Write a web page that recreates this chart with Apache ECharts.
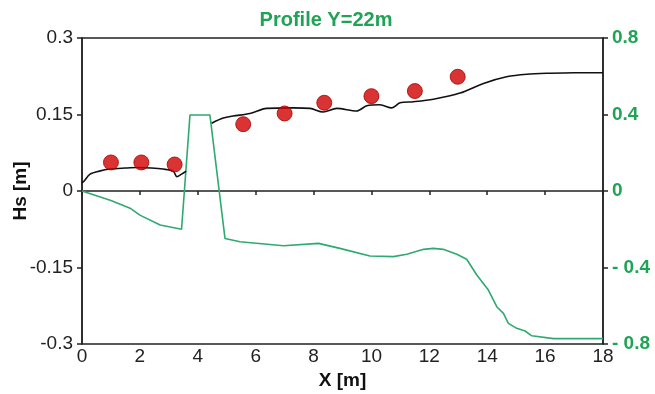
<!DOCTYPE html>
<html>
<head>
<meta charset="utf-8">
<script src="https://cdn.jsdelivr.net/npm/echarts@6/dist/echarts.min.js"></script>
<style>html,body{margin:0;padding:0;background:#fff;}#c{width:655px;height:394px;}</style>
</head>
<body>
<div id="c"></div>
<script>
// Modelled Hs (black line, left axis); '-' marks the gap over the structure
var hsX = [0, 0.05, 0.28, 0.6, 0.97, 1.5, 1.89, 2.4, 2.8, 3.15, 3.28, 3.44, 3.6, 4.0, 4.48, 4.88, 5.22, 5.8, 6.38, 7.3, 7.88, 8.33, 8.8, 9.49, 9.84, 10.3, 10.7, 10.99, 11.45, 12.14, 13.06, 13.87, 14.67, 15.37, 16.17, 17.0, 18];
var hsY = [0.016, 0.018, 0.033, 0.039, 0.043, 0.045, 0.046, 0.045, 0.043, 0.039, 0.028, 0.033, 0.039, '-', 0.133, 0.143, 0.147, 0.152, 0.162, 0.163, 0.162, 0.155, 0.162, 0.157, 0.167, 0.169, 0.163, 0.173, 0.175, 0.180, 0.192, 0.211, 0.224, 0.229, 0.231, 0.232, 0.232];
// Measured Hs (red dots, left axis)
var obsX = [1.0, 2.05, 3.2, 5.57, 7.0, 8.37, 10.0, 11.5, 12.98];
var obsY = [0.056, 0.056, 0.052, 0.131, 0.152, 0.173, 0.186, 0.196, 0.224];
// Bottom profile (green line, right axis)
var bedX = [0, 0.5, 1.0, 1.66, 2.0, 2.7, 3.44, 3.73, 4.42, 4.94, 5.46, 6.96, 8.17, 8.91, 9.95, 10.76, 11.22, 11.8, 12.14, 12.48, 12.95, 13.29, 13.64, 14.04, 14.33, 14.56, 14.73, 15.02, 15.31, 15.54, 16.29, 18];
var bedY = [0.0, -0.025, -0.05, -0.09, -0.126, -0.178, -0.2, 0.397, 0.397, -0.248, -0.265, -0.286, -0.274, -0.3, -0.34, -0.343, -0.331, -0.305, -0.3, -0.305, -0.331, -0.357, -0.439, -0.518, -0.605, -0.64, -0.692, -0.718, -0.732, -0.757, -0.772, -0.772];
var xTicks = [0, 2, 4, 6, 8, 10, 12, 14, 16, 18];
var leftTicks = [-0.3, -0.15, 0, 0.15, 0.3];
var rightTicks = [-0.8, -0.4, 0, 0.4, 0.8];

function zip(a, b) { return a.map(function (v, i) { return [v, b[i]]; }); }

var FONT = 'Liberation Sans, Arial, sans-serif';
var GREEN = '#1fa355';
var chart = echarts.init(document.getElementById('c'), null, { renderer: 'canvas' });
chart.setOption({
  animation: false,
  backgroundColor: '#fff',
  title: {
    text: 'Profile Y=22m', left: 321, top: 5, textAlign: 'center',
    textStyle: { color: GREEN, fontFamily: FONT, fontSize: 20, fontWeight: 'bold' }
  },
  grid: { left: 82, right: 52, top: 38, bottom: 50, containLabel: false, outerBoundsMode: 'none',
    show: true, borderColor: '#222', borderWidth: 1.5, backgroundColor: 'transparent' },
  xAxis: {
    type: 'value', min: xTicks[0], max: xTicks[xTicks.length - 1], interval: 2,
    name: 'X [m]', nameLocation: 'middle', nameGap: 27,
    nameTextStyle: { fontFamily: FONT, fontSize: 19, fontWeight: 'bold', color: '#111' },
    axisLine: { lineStyle: { color: '#222', width: 1.5 } },
    axisTick: { show: true, length: 4, lineStyle: { color: '#222', width: 1.5 } },
    axisLabel: { fontFamily: FONT, fontSize: 19, color: '#222', margin: 3 },
    splitLine: { show: false }
  },
  yAxis: [{
    type: 'value', min: leftTicks[0], max: leftTicks[leftTicks.length - 1], interval: 0.15,
    name: 'Hs [m]', nameLocation: 'middle', nameGap: 52, nameMoveOverlap: false,
    nameTextStyle: { fontFamily: FONT, fontSize: 19, fontWeight: 'bold', color: '#111' },
    axisLine: { show: true, lineStyle: { color: '#222', width: 1.5 } },
    axisTick: { show: true, length: 5, lineStyle: { color: '#222', width: 1.5 } },
    axisLabel: { fontFamily: FONT, fontSize: 19, color: '#222', margin: 9,
      formatter: function (v) { return String(Math.round(v * 100) / 100); } },
    splitLine: { show: false }
  }, {
    type: 'value', position: 'right', min: rightTicks[0], max: rightTicks[rightTicks.length - 1], interval: 0.4,
    axisLine: { show: true, lineStyle: { color: '#222', width: 1.5 } },
    axisTick: { show: true, length: 5, lineStyle: { color: '#222', width: 1.5 } },
    axisLabel: { fontFamily: FONT, fontSize: 19, color: GREEN, fontWeight: 'bold', margin: 9,
      formatter: function (v) { v = Math.round(v * 10) / 10; return v < 0 ? '- ' + Math.abs(v) : String(v); } },
    splitLine: { show: false }
  }],
  series: [{
    type: 'line', yAxisIndex: 1, data: zip(bedX, bedY), showSymbol: false,
    lineStyle: { color: '#2eaa70', width: 1.6 }, z: 2
  }, {
    type: 'line', yAxisIndex: 0, data: zip(hsX, hsY), showSymbol: false, smooth: 0.3, connectNulls: false,
    lineStyle: { color: '#111', width: 1.6 }, z: 3
  }, {
    type: 'scatter', yAxisIndex: 0, data: zip(obsX, obsY), symbolSize: 15,
    itemStyle: { color: '#cf0000', borderColor: '#a80000', borderWidth: 1 }, z: 4
  }]
});
</script>
</body>
</html>
